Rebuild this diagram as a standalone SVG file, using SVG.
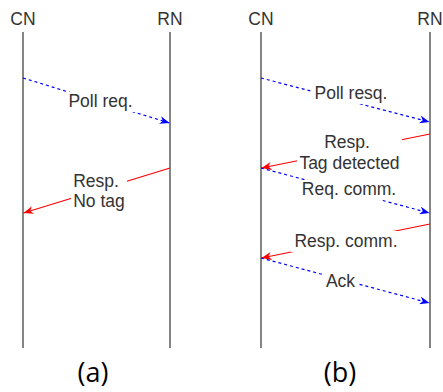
<svg xmlns="http://www.w3.org/2000/svg" width="443" height="392" viewBox="0 0 443 392">
  <style>
    .life { stroke: #333333; stroke-width: 1.2; fill: none; }
    .req { stroke: #0000FF; stroke-width: 1.2; stroke-dasharray: 3 3; fill: none; marker-end: url(#arrBlue); }
    .resp { stroke: #FF0000; stroke-width: 1.2; fill: none; marker-end: url(#arrRed); }
    .head { font-family: "Liberation Sans", Arial, sans-serif; font-size: 17.5px; fill: #333333; text-anchor: middle; }
    .lbl { font-family: "Liberation Sans", Arial, sans-serif; font-size: 17.5px; fill: #333333; text-anchor: middle; }
    .bg { fill: #FFFFFF; stroke: none; }
    .cap { font-family: "Open Sans", "Liberation Sans", sans-serif; font-size: 27px; fill: #000000; text-anchor: middle; }
  </style>
  <defs>
    <marker id="arrBlue" markerUnits="userSpaceOnUse" viewBox="0 0 10 8" markerWidth="10" markerHeight="8" refX="10" refY="4" orient="auto">
      <path d="M0,0 L10,4 L0,8 L3,4 z" fill="#0000FF" stroke="none"/>
    </marker>
    <marker id="arrRed" markerUnits="userSpaceOnUse" viewBox="0 0 10 8" markerWidth="10" markerHeight="8" refX="10" refY="4" orient="auto">
      <path d="M0,0 L10,4 L0,8 L3,4 z" fill="#FF0000" stroke="none"/>
    </marker>
  </defs>
  <rect x="0" y="0" width="443" height="392" fill="#FFFFFF"/>

  <!-- Panel (a) -->
  <g id="a-CN">
    <text class="head" x="23" y="25">CN</text>
    <line class="life" x1="23" y1="32" x2="23" y2="348"/>
  </g>
  <g id="a-RN">
    <text class="head" x="170" y="25">RN</text>
    <line class="life" x1="170" y1="32" x2="170" y2="348"/>
  </g>

  <!-- Panel (b) -->
  <g id="b-CN">
    <text class="head" x="261" y="25">CN</text>
    <line class="life" x1="261" y1="32" x2="261" y2="348"/>
  </g>
  <g id="b-RN">
    <text class="head" x="430" y="25">RN</text>
    <line class="life" x1="430" y1="32" x2="430" y2="348"/>
  </g>

  <g id="connectors">
    <!-- (a) -->
    <line class="req" x1="23" y1="78" x2="169.5" y2="123"/>
    <line class="resp" x1="170" y1="168" x2="23.5" y2="213"/>
    <!-- (b) -->
    <line class="req" x1="261" y1="78" x2="429.5" y2="122"/>
    <line class="resp" x1="430" y1="134" x2="261.5" y2="168"/>
    <line class="req" x1="261" y1="168" x2="429.5" y2="213"/>
    <line class="resp" x1="430" y1="224" x2="261.5" y2="258"/>
    <line class="req" x1="261" y1="258" x2="429.5" y2="303"/>
  </g>

  <g id="labels">
    <rect class="bg" x="66" y="92" width="69" height="20"/>
    <text class="lbl" x="100.5" y="107">Poll req.</text>

    <rect class="bg" x="71" y="172" width="56" height="40"/>
    <text class="lbl" x="96" y="187">Resp.</text>
    <text class="lbl" x="99" y="207">No tag</text>

    <rect class="bg" x="313" y="84" width="76" height="20"/>
    <text class="lbl" x="351" y="99">Poll resq.</text>

    <rect class="bg" x="297" y="133" width="105" height="41"/>
    <text class="lbl" x="347" y="148">Resp.</text>
    <text class="lbl" x="349.5" y="169">Tag detected</text>

    <rect class="bg" x="299" y="180" width="100" height="20"/>
    <text class="lbl" x="349" y="195">Req. comm.</text>

    <rect class="bg" x="291" y="231" width="109" height="21"/>
    <text class="lbl" x="346" y="247">Resp. comm.</text>

    <rect class="bg" x="324" y="272" width="33" height="20"/>
    <text class="lbl" x="340.5" y="287">Ack</text>
  </g>

  <g id="captions">
    <text class="cap" x="93" y="382">(a)</text>
    <text class="cap" x="340" y="382">(b)</text>
  </g>
</svg>
